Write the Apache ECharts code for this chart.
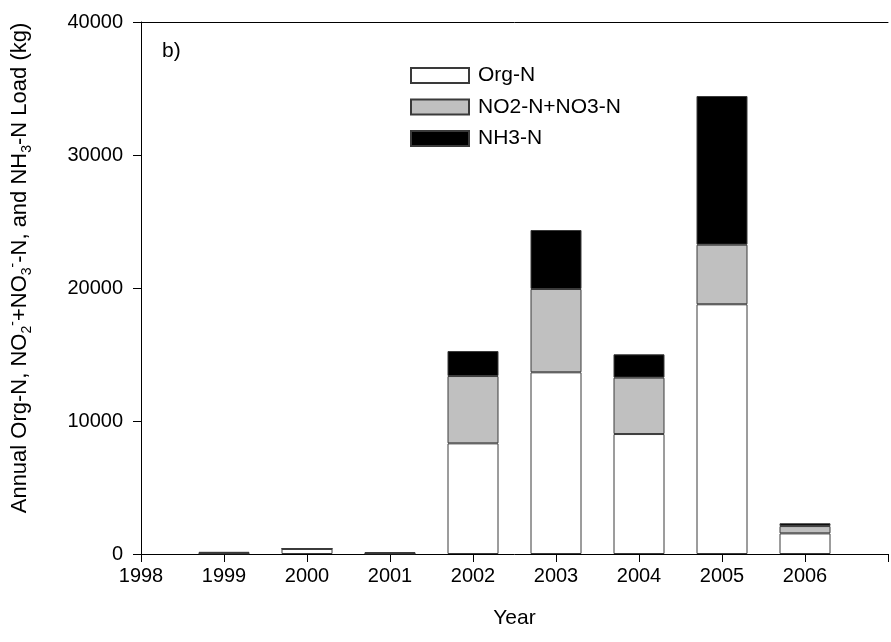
<!DOCTYPE html>
<html>
<head>
<meta charset="utf-8">
<script src="https://cdn.jsdelivr.net/npm/echarts@6/dist/echarts.min.js"></script>
<style>html,body{margin:0;padding:0;background:#fff}#c{width:891px;height:642px}</style>
</head>
<body>
<div id="c"></div>
<script>
const xCategories = ['1998', '1999', '2000', '2001', '2002', '2003', '2004', '2005', '2006', '2007'];
const orgN = [null, 50, 380, 40, 8320, 13660, 9020, 18775, 1550, null];
const no2no3N = [null, 30, 10, 30, 5060, 6265, 4240, 4480, 550, null];
const nh3N = [null, 80, 15, 70, 1880, 4435, 1755, 11180, 210, null];
const yTicks = [0, 10000, 20000, 30000, 40000];
const seriesNames = ['Org-N', 'NO2-N+NO3-N', 'NH3-N'];

const FONT = "'Liberation Sans', Arial, sans-serif";
const chart = echarts.init(document.getElementById('c'), null, {renderer: 'canvas'});
const border = '#3a3a3a';
function mk(name, vals, color) {
  return {
    name: name, type: 'bar', stack: 'total', barWidth: 51,
    data: vals,
    itemStyle: {color: color, borderColor: border, borderWidth: 1},
    emphasis: {disabled: true}, animation: false
  };
}
chart.setOption({
  animation: false,
  textStyle: {fontFamily: FONT},
  grid: {left: 141, top: 22, bottom: 88, right: -8, containLabel: false},
  legend: {
    orient: 'vertical', left: 405, top: 60, itemWidth: 58, itemHeight: 15, itemGap: 10.5,
    icon: 'rect',
    textStyle: {fontFamily: FONT, fontSize: 21, color: '#000', padding: [0, 0, 0, 4]},
    data: seriesNames.map(n => ({name: n}))
  },
  xAxis: [{
    type: 'category', data: xCategories, boundaryGap: false,
    name: 'Year', nameLocation: 'middle', nameGap: 54,
    nameTextStyle: {fontFamily: FONT, fontSize: 21, color: '#000'},
    axisLine: {show: true, onZero: false, lineStyle: {color: '#000', width: 1}},
    axisTick: {show: true, inside: false, length: 8, alignWithLabel: true, lineStyle: {color: '#000'}},
    axisLabel: {fontFamily: FONT, fontSize: 20, color: '#000', margin: 12, interval: 0,
      formatter: v => (v === '2007' ? '' : v)},
    splitLine: {show: false}
  }, {
    type: 'category', data: xCategories, boundaryGap: false, position: 'top',
    axisLine: {show: true, onZero: false, lineStyle: {color: '#000', width: 1}},
    axisTick: {show: false}, axisLabel: {show: false}, splitLine: {show: false}
  }],
  yAxis: {
    type: 'value', min: yTicks[0], max: yTicks[yTicks.length - 1], interval: 10000,
    axisLine: {show: true, lineStyle: {color: '#000', width: 1}},
    axisTick: {show: true, length: 8, lineStyle: {color: '#000'}},
    axisLabel: {fontFamily: FONT, fontSize: 20, color: '#000', margin: 18, formatter: v => String(v)},
    splitLine: {show: false}
  },
  graphic: [{
    type: 'text', left: 162, top: 41,
    style: {text: 'b)', font: "21px " + FONT, fill: '#000'}
  }, {
    type: 'text', x: 20, y: 268, rotation: Math.PI / 2,
    style: {
      text: 'Annual Org-N, NO{sub|2}{sup|-}+NO{sub|3}{sup|-}-N, and NH{sub|3}-N Load (kg)',
      align: 'center', verticalAlign: 'middle',
      font: "22px " + FONT, fill: '#000', lineHeight: 28,
      rich: {
        sub: {fontSize: 14, fontFamily: FONT, verticalAlign: 'bottom', lineHeight: 28, fill: '#000'},
        sup: {fontSize: 14, fontFamily: FONT, verticalAlign: 'top', lineHeight: 28, fill: '#000'}
      }
    }
  }],
  series: [
    mk(seriesNames[0], orgN, '#ffffff'),
    mk(seriesNames[1], no2no3N, '#c0c0c0'),
    mk(seriesNames[2], nh3N, '#000000')
  ]
});
</script>
</body>
</html>
